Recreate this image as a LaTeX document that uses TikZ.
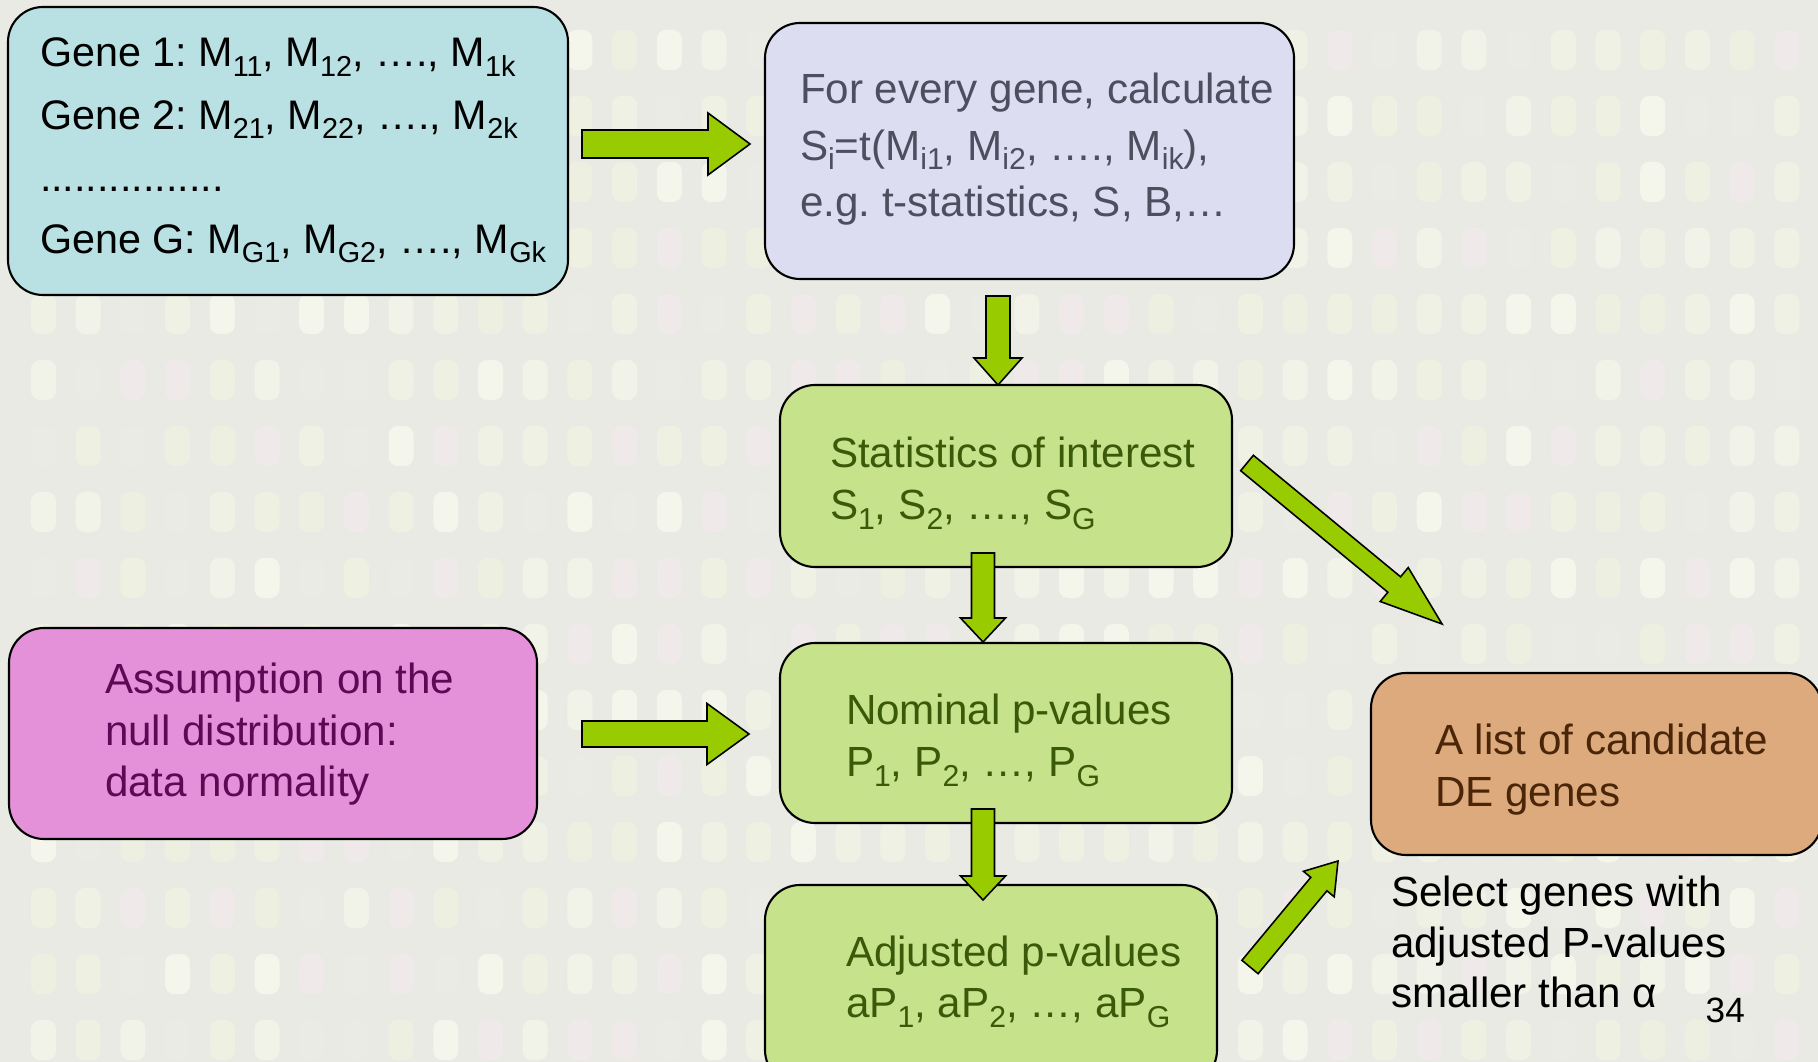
\documentclass[tikz,border=0pt]{standalone}
\usepackage{fontspec}
\setmainfont{Liberation Sans}
\usetikzlibrary{calc}
\frenchspacing
\definecolor{bgc}{HTML}{E9EAE4}
\definecolor{spot0}{HTML}{F2F3E8}
\definecolor{spot1}{HTML}{EEF1E2}
\definecolor{spot2}{HTML}{EFE9EA}
\definecolor{spot3}{HTML}{EAEBE5}
\definecolor{spot4}{HTML}{F4F5EB}
\definecolor{spot5}{HTML}{EDF0E0}
\definecolor{spot6}{HTML}{F0F1E5}
\definecolor{cyanfill}{HTML}{B9E0E2}
\definecolor{lavfill}{HTML}{DCDDF0}
\definecolor{greenfill}{HTML}{C6E38C}
\definecolor{pinkfill}{HTML}{E591DA}
\definecolor{orangefill}{HTML}{DCAA7C}
\definecolor{arrowgreen}{HTML}{99CC00}
\definecolor{lavtext}{HTML}{4E4E5E}
\definecolor{greentext}{HTML}{3A5A0A}
\definecolor{pinktext}{HTML}{5C0A55}
\definecolor{orangetext}{HTML}{4A2508}
\newcommand\sbs[1]{\raisebox{-0.23em}{\fontsize{8.6}{8.6}\selectfont #1}}
\newcommand\sbsg[1]{\raisebox{-0.23em}{\fontsize{8.2}{8.2}\selectfont #1}}
\newcommand\myblockarrow[5]{%
  \coordinate (bah) at ($(#2)!#5!(#1)$);
  \filldraw[barrow] ($(#1)!#3!90:(#2)$) -- ($(bah)!#3!90:(#2)$) -- ($(bah)!#4!90:(#2)$) -- (#2)
    -- ($(bah)!#4!-90:(#2)$) -- ($(bah)!#3!-90:(#2)$) -- ($(#1)!#3!-90:(#2)$) -- cycle;
}
\tikzset{
  box/.style={draw=black, line width=0.6pt, rounded corners=3.5mm, anchor=north west, inner sep=0pt, outer sep=0pt},
  txt/.style={anchor=north west, inner sep=0pt, outer sep=0pt, align=left},
  barrow/.style={fill=arrowgreen, draw=black, line width=0.45pt, line join=miter},
}
\begin{document}
\begin{tikzpicture}[x=0.1mm,y=-0.1mm]
\useasboundingbox (0,0) rectangle (1818,1062);
\clip (0,0) rectangle (1818,1062);
\fill[bgc] (0,0) rectangle (1818,1062);
\pgfmathsetseed{4242}
\foreach \i in {0,...,40}{
  \foreach \j in {0,...,15}{
    \pgfmathrandominteger{\r}{0}{6}
    \fill[color=spot\r, rounded corners=0.9mm] ({31+44.7*\i},{30+66*\j}) rectangle ++(25,40);
  }
}
% boxes
\node[box, fill=cyanfill, minimum width=56mm, minimum height=28.8mm] (genes) at (8,7) {};
\node[box, fill=lavfill, minimum width=52.9mm, minimum height=25.6mm] (calc) at (765,23) {};
\node[box, fill=greenfill, minimum width=45.2mm, minimum height=18.2mm] (stats) at (780,385) {};
\node[box, fill=greenfill, minimum width=45.2mm, minimum height=18mm] (nominal) at (780,643) {};
\node[box, fill=greenfill, minimum width=45.2mm, minimum height=20mm] (adjusted) at (765,885) {};
\node[box, fill=pinkfill, minimum width=52.8mm, minimum height=21.1mm] (assump) at (9,628) {};
\node[box, fill=orangefill, minimum width=45.1mm, minimum height=18.2mm] (cand) at (1371,673) {};
% arrows
\coordinate (a1s) at (582,144); \coordinate (a1e) at (750,144);
\coordinate (a2s) at (998,296); \coordinate (a2e) at (998,385);
\coordinate (a3s) at (983,553); \coordinate (a3e) at (983,642);
\coordinate (a4s) at (983,809); \coordinate (a4e) at (983,900);
\coordinate (a5s) at (582,734); \coordinate (a5e) at (749,734);
\coordinate (a6s) at (1247,463); \coordinate (a6e) at (1442,624);
\coordinate (a7s) at (1250,967); \coordinate (a7e) at (1338,861);
\myblockarrow{a1s}{a1e}{1.4mm}{3.1mm}{4.2mm}
\myblockarrow{a2s}{a2e}{1.2mm}{2.4mm}{2.7mm}
\myblockarrow{a3s}{a3e}{1.15mm}{2.25mm}{2.4mm}
\myblockarrow{a4s}{a4e}{1.15mm}{2.25mm}{2.4mm}
\myblockarrow{a5s}{a5e}{1.3mm}{3.05mm}{4.2mm}
\myblockarrow{a6s}{a6e}{1.0mm}{2.2mm}{6.2mm}
\myblockarrow{a7s}{a7e}{1.05mm}{2.0mm}{3.0mm}
% texts
\node[txt, font=\fontsize{11.75}{17.7}\selectfont] (genest) at (40,38)
  {Gene 1: M\sbsg{11}, M\sbsg{12}, …., M\sbsg{1k}\\
   Gene 2: M\sbsg{21}, M\sbsg{22}, …., M\sbsg{2k}\\
   ................\\
   Gene G: M\sbsg{G1}, M\sbsg{G2}, …., M\sbsg{Gk}};
\node[txt, text=lavtext, font=\fontsize{12}{16.1}\selectfont] (calct) at (800,73)
  {For every gene, calculate\\
   S\sbs{i}=t(M\sbs{i1}, M\sbs{i2}, …., M\sbs{ik}),\\
   e.g. t-statistics, S, B,…};
\node[txt, text=greentext, font=\fontsize{12}{14.8}\selectfont] (statst) at (830,437)
  {Statistics of interest\\
   S\sbs{1}, S\sbs{2}, …., S\sbs{G}};
\node[txt, text=greentext, font=\fontsize{12}{14.8}\selectfont] (nominalt) at (846,694)
  {Nominal p-values\\
   P\sbs{1}, P\sbs{2}, …, P\sbs{G}};
\node[txt, text=greentext, font=\fontsize{12}{14.5}\selectfont] (adjustedt) at (846,936)
  {Adjusted p-values\\
   aP\sbs{1}, aP\sbs{2}, …, aP\sbs{G}};
\node[txt, text=pinktext, font=\fontsize{12}{14.65}\selectfont] (assumpt) at (105,663)
  {Assumption on the\\
   null distribution:\\
   data normality};
\node[txt, text=orangetext, font=\fontsize{12}{14.8}\selectfont] (candt) at (1435,724)
  {A list of candidate\\
   DE genes};
\node[txt, font=\fontsize{12}{14.4}\selectfont] (selectt) at (1391,876)
  {Select genes with\\
   adjusted P-values\\
   smaller than α};
\node[anchor=base west, inner sep=0pt, font=\fontsize{10}{12}\selectfont] (pagenum) at (1705,1022) {34};
\end{tikzpicture}
\end{document}
